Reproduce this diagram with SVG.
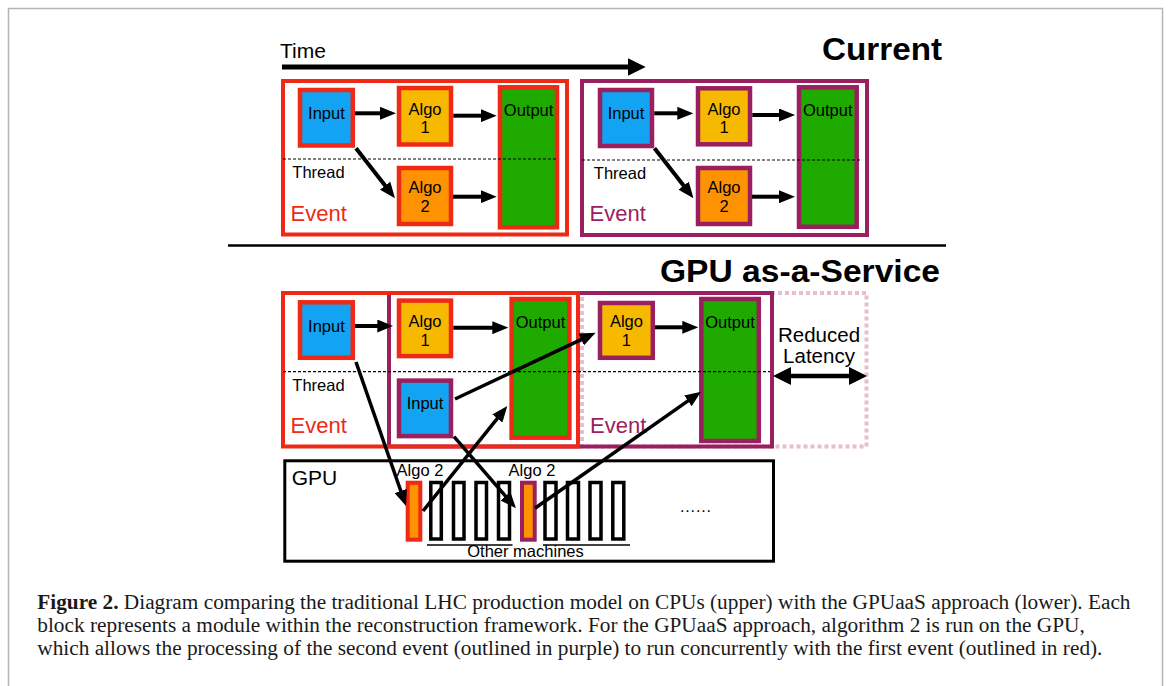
<svg xmlns="http://www.w3.org/2000/svg" width="1168" height="686" viewBox="0 0 1168 686">
<defs>
<marker id="ah" markerUnits="userSpaceOnUse" markerWidth="16" markerHeight="13" refX="4" refY="6.5" orient="auto"><path d="M0,0 L16,6.5 L0,13 z" fill="#000"/></marker>
<marker id="ahb" markerUnits="userSpaceOnUse" markerWidth="18" markerHeight="18" refX="4" refY="9" orient="auto-start-reverse"><path d="M0,0 L18,9 L0,18 z" fill="#000"/></marker>
<style>
.t{font-family:"Liberation Sans",Arial,sans-serif;fill:#000}
.n{font-size:16.5px;text-anchor:middle}
.ev{font-size:22px}
.red{stroke:#ee2a16}
.pur{stroke:#9a1f5f}
.box{fill:none;stroke-width:4}
.nd{stroke-width:4.5}
.in{fill:#12a3f2}
.a1{fill:#f7b800}
.a2{fill:#ff9200}
.out{fill:#1faa00}
.c{stroke:#000;stroke-width:4;fill:none;marker-end:url(#ah)}
.cl{stroke:#000;stroke-width:3.5;fill:none;marker-end:url(#ah)}
.d{stroke:#000;stroke-width:1.2;stroke-dasharray:3 2}
.bar{fill:#fff;stroke:#000;stroke-width:3.5}
.cap{font-family:"Liberation Serif","Times New Roman",serif;font-size:21.3px;fill:#1a1a1a}
</style>
</defs>
<rect x="8.5" y="8.5" width="1154" height="690" fill="#fff" stroke="#b4b4b4" stroke-width="1.5"/>

<!-- Titles / time -->
<g id="time">
<text class="t" x="280" y="58" font-size="21">Time</text>
<line x1="282" y1="67" x2="631.7" y2="67" stroke="#000" stroke-width="5" marker-end="url(#ahb)"/>
</g>
<text class="t" x="822" y="59.5" font-size="31" font-weight="bold" textLength="120" lengthAdjust="spacingAndGlyphs">Current</text>
<line x1="228" y1="245.5" x2="946" y2="245.5" stroke="#000" stroke-width="2.5"/>
<text class="t" x="660" y="282" font-size="31" font-weight="bold" textLength="280" lengthAdjust="spacingAndGlyphs">GPU as-a-Service</text>

<!-- Current: event 1 -->
<g id="cur-event1">
<rect class="box red" x="283" y="81" width="284" height="153.5"/>
<text class="t ev" x="290.5" y="220.5" fill="#ee2a16" style="fill:#ee2a16">Event</text>
</g>
<g id="cur-e1-input"><rect class="nd red in" x="300" y="90" width="52.8" height="55.5"/><text class="t n" x="326.4" y="119.3">Input</text></g>
<g id="cur-e1-algo1"><rect class="nd red a1" x="399" y="88" width="52" height="56.5"/><text class="t n" x="425" y="115">Algo</text><text class="t n" x="425" y="133.3">1</text></g>
<g id="cur-e1-algo2"><rect class="nd red a2" x="399" y="168" width="52" height="56"/><text class="t n" x="425" y="192.7">Algo</text><text class="t n" x="425" y="211.7">2</text></g>
<g id="cur-e1-output"><rect class="nd red out" x="500" y="87.3" width="57" height="140"/><text class="t n" x="528.6" y="116">Output</text></g>
<line class="d" x1="283" y1="159" x2="558" y2="159"/>
<text class="t n" x="318.5" y="178.3" style="text-anchor:middle">Thread</text>

<!-- Current: event 2 -->
<g id="cur-event2">
<rect class="box pur" x="582" y="81" width="285" height="154"/>
<text class="t ev" x="589.5" y="220.5" style="fill:#9a1f5f">Event</text>
</g>
<g id="cur-e2-input"><rect class="nd pur in" x="600" y="90" width="52" height="56"/><text class="t n" x="626" y="119.3">Input</text></g>
<g id="cur-e2-algo1"><rect class="nd pur a1" x="698" y="88.3" width="52" height="56"/><text class="t n" x="724" y="115">Algo</text><text class="t n" x="724" y="133.3">1</text></g>
<g id="cur-e2-algo2"><rect class="nd pur a2" x="698" y="168" width="52" height="56"/><text class="t n" x="724" y="192.7">Algo</text><text class="t n" x="724" y="211.7">2</text></g>
<g id="cur-e2-output"><rect class="nd pur out" x="799" y="87.3" width="57.7" height="139.5"/><text class="t n" x="827.8" y="116">Output</text></g>
<line class="d" x1="582" y1="160" x2="860" y2="160"/>
<text class="t n" x="620" y="179" style="text-anchor:middle">Thread</text>

<!-- GPUaaS: event boxes -->
<g id="gpu-latency-box"><rect x="582" y="293" width="284.5" height="153.5" fill="none" stroke="#e8bdd0" stroke-width="4" stroke-dasharray="4 3"/></g>
<g id="gpu-event2"><rect class="box pur" x="389" y="293" width="383" height="153.5"/></g>
<g id="gpu-event1"><rect class="box red" x="283" y="293" width="295" height="153.5"/></g>

<g id="gpu-e1-input"><rect class="nd red in" x="300" y="302.3" width="52.8" height="55.5"/><text class="t n" x="326.4" y="331.7">Input</text></g>
<g id="gpu-e1-algo1"><rect class="nd red a1" x="399" y="300.6" width="52" height="55.5"/><text class="t n" x="425" y="326.7">Algo</text><text class="t n" x="425" y="346">1</text></g>
<g id="gpu-e1-output"><rect class="nd red out" x="511.6" y="299" width="57.8" height="138.7"/><text class="t n" x="540.5" y="328.3">Output</text></g>
<g id="gpu-e2-input"><rect class="nd pur in" x="399" y="380.6" width="52" height="55.5"/><text class="t n" x="425" y="409.3">Input</text></g>
<g id="gpu-e2-algo1"><rect class="nd pur a1" x="600" y="303" width="52.8" height="54.8"/><text class="t n" x="626.4" y="326.7">Algo</text><text class="t n" x="626.4" y="346">1</text></g>
<g id="gpu-e2-output"><rect class="nd pur out" x="701.3" y="299" width="57.5" height="142"/><text class="t n" x="730" y="328.3">Output</text></g>
<line class="d" x1="283" y1="371.7" x2="770" y2="371.7"/>
<text class="t n" x="318.5" y="390.7">Thread</text>
<text class="t ev" x="290.5" y="433.3" style="fill:#ee2a16">Event</text>
<text class="t ev" x="590" y="433.3" style="fill:#9a1f5f">Event</text>

<g id="reduced-latency">
<text class="t" x="819" y="341.7" font-size="20.5" text-anchor="middle">Reduced</text>
<text class="t" x="819" y="363.3" font-size="20.5" text-anchor="middle">Latency</text>
<line x1="787" y1="376" x2="853" y2="376" stroke="#000" stroke-width="4.5" marker-start="url(#ahb)" marker-end="url(#ahb)"/>
</g>

<!-- GPU -->
<g id="gpu">
<rect x="284.8" y="460.8" width="488.7" height="100.4" fill="#fff" stroke="#000" stroke-width="3"/>
<text class="t" x="291.7" y="485" font-size="21">GPU</text>
</g>
<g id="gpu-algo2-red">
<rect x="407.7" y="482.7" width="12.6" height="57" fill="#ff9200" stroke="#ee2a16" stroke-width="4"/>
<text class="t n" x="420" y="476">Algo 2</text>
</g>
<g id="gpu-algo2-purple">
<rect x="522" y="482.7" width="12.7" height="57" fill="#ff9200" stroke="#9a1f5f" stroke-width="4"/>
<text class="t n" x="532" y="476">Algo 2</text>
</g>
<g id="other-machines">
<rect class="bar" x="430.8" y="482.5" width="10.5" height="56.5"/>
<rect class="bar" x="453.5" y="482.5" width="10.5" height="56.5"/>
<rect class="bar" x="476" y="482.5" width="10.5" height="56.5"/>
<rect class="bar" x="498.5" y="482.5" width="11" height="56.5"/>
<rect class="bar" x="545" y="482.5" width="11" height="56.5"/>
<rect class="bar" x="567.5" y="482.5" width="11" height="56.5"/>
<rect class="bar" x="590" y="482.5" width="11" height="56.5"/>
<rect class="bar" x="612.8" y="482.5" width="11" height="56.5"/>
<line x1="427" y1="545" x2="512.5" y2="545" stroke="#000" stroke-width="1.5"/>
<line x1="543" y1="545" x2="630" y2="545" stroke="#000" stroke-width="1.5"/>
<text class="t n" x="525.5" y="556.7">Other machines</text>
<text class="t" x="680" y="512" font-size="16" textLength="31">......</text>
</g>

<!-- connectors -->
<g id="connectors">
<line class="c" x1="355" y1="113.3" x2="384" y2="113.3"/>
<line class="c" x1="453.3" y1="115.7" x2="484.7" y2="115.7"/>
<line class="c" x1="356" y1="148.3" x2="387.6" y2="188.8"/>
<line class="c" x1="453" y1="196.7" x2="484.7" y2="196.7"/>
<line class="c" x1="654.3" y1="113.3" x2="681.3" y2="113.3"/>
<line class="c" x1="752.3" y1="115" x2="783" y2="115"/>
<line class="c" x1="654.5" y1="148.3" x2="686.1" y2="188.8"/>
<line class="c" x1="752" y1="196.7" x2="783" y2="196.7"/>
<line class="c" x1="355" y1="326" x2="381.3" y2="326"/>
<line class="c" x1="453.3" y1="327.7" x2="496.3" y2="327.7"/>
<line class="c" x1="655" y1="327.3" x2="686.3" y2="327.3"/>
<line class="cl" x1="356" y1="362" x2="402.1" y2="494.7"/>
<line class="cl" x1="423" y1="511" x2="499.8" y2="415.4"/>
<line class="cl" x1="454" y1="436.7" x2="508.1" y2="499.2"/>
<line class="cl" x1="455" y1="399" x2="584.8" y2="337.8"/>
<line class="cl" x1="535" y1="508.3" x2="691.2" y2="398.6"/>
</g>

<!-- caption -->
<g id="caption">
<text class="cap" x="37.3" y="609"><tspan font-weight="bold">Figure 2.</tspan> Diagram comparing the traditional LHC production model on CPUs (upper) with the GPUaaS approach (lower). Each</text>
<text class="cap" x="37.3" y="632">block represents a module within the reconstruction framework. For the GPUaaS approach, algorithm 2 is run on the GPU,</text>
<text class="cap" x="37.3" y="655">which allows the processing of the second event (outlined in purple) to run concurrently with the first event (outlined in red).</text>
</g>
</svg>
